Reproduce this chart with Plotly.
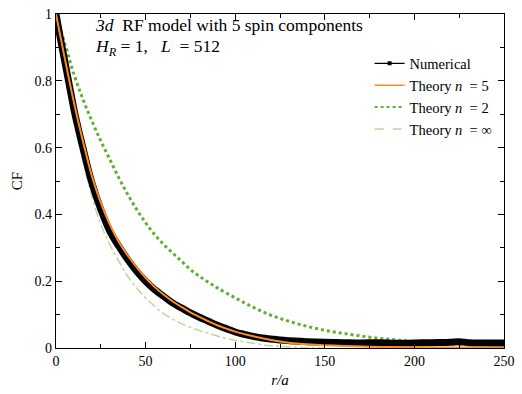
import plotly.graph_objects as go

# ---- data ----
r_num = [0, 2, 5, 7.5, 10, 12.5, 15, 17.5, 20, 25, 30, 35, 40, 45, 50, 55, 60, 65, 70, 75, 80, 85, 90, 95,
         100, 105, 110, 115, 120, 125, 130, 140, 150, 160, 170, 180, 190, 200, 210, 220, 225, 230, 240, 250]
cf_num = [1.0, 0.94, 0.855, 0.785, 0.715, 0.655, 0.60, 0.545, 0.495, 0.415, 0.35, 0.305, 0.265, 0.23, 0.20,
          0.175, 0.155, 0.135, 0.12, 0.105, 0.092, 0.08, 0.068, 0.058, 0.048, 0.041, 0.035, 0.030, 0.027,
          0.024, 0.022, 0.019, 0.017, 0.016, 0.015, 0.016, 0.014, 0.015, 0.016, 0.017, 0.019, 0.016, 0.015, 0.015]

r_n5 = [0, 5, 10, 15, 20, 25, 30, 35, 40, 45, 50, 55, 60, 65, 70, 75, 80, 85, 90, 95, 100,
        110, 120, 130, 140, 150, 175, 200, 250]
cf_n5 = [1.0, 0.865, 0.735, 0.62, 0.515, 0.435, 0.37, 0.318, 0.277, 0.242, 0.21, 0.183, 0.16, 0.14,
         0.123, 0.107, 0.093, 0.08, 0.068, 0.058, 0.049, 0.035, 0.024, 0.016, 0.011, 0.008, 0.004, 0.002, 0.001]

r_n2 = [0, 5, 10, 15, 20, 25, 30, 35, 40, 45, 50, 55, 60, 65, 70, 75, 80, 85, 90, 100, 110, 120, 130,
        140, 150, 160, 170, 180, 190, 200, 210, 220, 230, 240, 250]
cf_n2 = [1.0, 0.91, 0.82, 0.745, 0.68, 0.62, 0.565, 0.51, 0.46, 0.415, 0.375, 0.34, 0.31, 0.285, 0.26,
         0.235, 0.215, 0.197, 0.18, 0.15, 0.122, 0.098, 0.08, 0.065, 0.053, 0.044, 0.036, 0.029, 0.024,
         0.019, 0.016, 0.013, 0.011, 0.010, 0.009]

r_ninf = [0, 5, 10, 15, 20, 25, 30, 35, 40, 45, 50, 55, 60, 65, 70, 75, 80, 85, 90, 95, 100, 105, 110,
          115, 120, 125, 130, 140, 150]
cf_ninf = [1.0, 0.84, 0.69, 0.56, 0.455, 0.37, 0.31, 0.26, 0.215, 0.18, 0.15, 0.125, 0.103, 0.087, 0.073,
           0.062, 0.052, 0.044, 0.036, 0.029, 0.023, 0.018, 0.014, 0.010, 0.007, 0.005, 0.003, 0.001, 0.0]

x_ticks = [0, 50, 100, 150, 200, 250]
y_ticks = [0, 0.2, 0.4, 0.6, 0.8, 1]
y_tick_text = ["0", "0.2", "0.4", "0.6", "0.8", "1"]

FONT = "Liberation Serif, Times New Roman, serif"
ORANGE = "#ff8c1a"
GREEN = "#5cb030"
LGREEN = "#b3dc9c"

fig = go.Figure()

# main curves (no legend)
fig.add_trace(go.Scatter(x=r_ninf, y=cf_ninf, mode="lines", showlegend=False,
                         line=dict(color=LGREEN, width=1.5, dash="dashdot", shape="spline")))
fig.add_trace(go.Scatter(x=r_n2, y=cf_n2, mode="lines", showlegend=False,
                         line=dict(color=GREEN, width=3, dash="dot", shape="spline")))
fig.add_trace(go.Scatter(x=r_num, y=cf_num, mode="lines", showlegend=False,
                         line=dict(color="black", width=7, shape="spline")))
fig.add_trace(go.Scatter(x=r_n5, y=cf_n5, mode="lines", showlegend=False,
                         line=dict(color=ORANGE, width=2, shape="spline")))

# legend entries
fig.add_trace(go.Scatter(x=[None], y=[None], mode="lines+markers", name="Numerical",
                         line=dict(color="black", width=1.2), marker=dict(color="black", size=4, symbol="square")))
fig.add_trace(go.Scatter(x=[None], y=[None], mode="lines", name="Theory <i>n</i>  = 5",
                         line=dict(color=ORANGE, width=1.5)))
fig.add_trace(go.Scatter(x=[None], y=[None], mode="lines", name="Theory <i>n</i>  = 2",
                         line=dict(color=GREEN, width=2, dash="dot")))
fig.add_trace(go.Scatter(x=[None], y=[None], mode="lines", name="Theory <i>n</i>  = ∞",
                         line=dict(color=LGREEN, width=1.5, dash="dash")))

axis_common = dict(showline=True, linecolor="black", linewidth=1.2, mirror="ticks",
                   ticks="inside", ticklen=6, tickwidth=1, tickcolor="black",
                   showgrid=False, zeroline=False,
                   tickfont=dict(family=FONT, size=14, color="black"))

fig.update_xaxes(range=[0, 250], tickvals=x_ticks,
                 minor=dict(dtick=25, ticks="inside", ticklen=4, tickcolor="black", showgrid=False),
                 title=dict(text="<i>r/a</i>", font=dict(family=FONT, size=15, color="black"), standoff=6),
                 **axis_common)
fig.update_yaxes(range=[0, 1], tickvals=y_ticks, ticktext=y_tick_text,
                 minor=dict(dtick=0.1, ticks="inside", ticklen=4, tickcolor="black", showgrid=False),
                 title=dict(text="CF", font=dict(family=FONT, size=15, color="black"), standoff=8),
                 **axis_common)

fig.update_layout(
    width=522, height=394,
    margin=dict(l=56, r=11, t=7, b=46),
    paper_bgcolor="white", plot_bgcolor="white",
    font=dict(family=FONT, color="black"),
    legend=dict(x=0.7, y=0.9, xanchor="left", yanchor="top",
                bgcolor="rgba(0,0,0,0)", font=dict(family=FONT, size=14.5, color="black"),
                tracegroupgap=0, itemwidth=30),
    annotations=[
        dict(x=0.0815, y=0.968, xref="paper", yref="paper", xanchor="left", yanchor="middle",
             text="<i>3d</i>  RF model with 5 spin components", showarrow=False,
             font=dict(family=FONT, size=17.5, color="black")),
        dict(x=0.0815, y=0.9, xref="paper", yref="paper", xanchor="left", yanchor="middle",
             text="<i>H<sub>R</sub></i> = 1,   <i>L</i>  = 512", showarrow=False,
             font=dict(family=FONT, size=17.5, color="black")),
    ],
)

fig.write_html("out.html")
